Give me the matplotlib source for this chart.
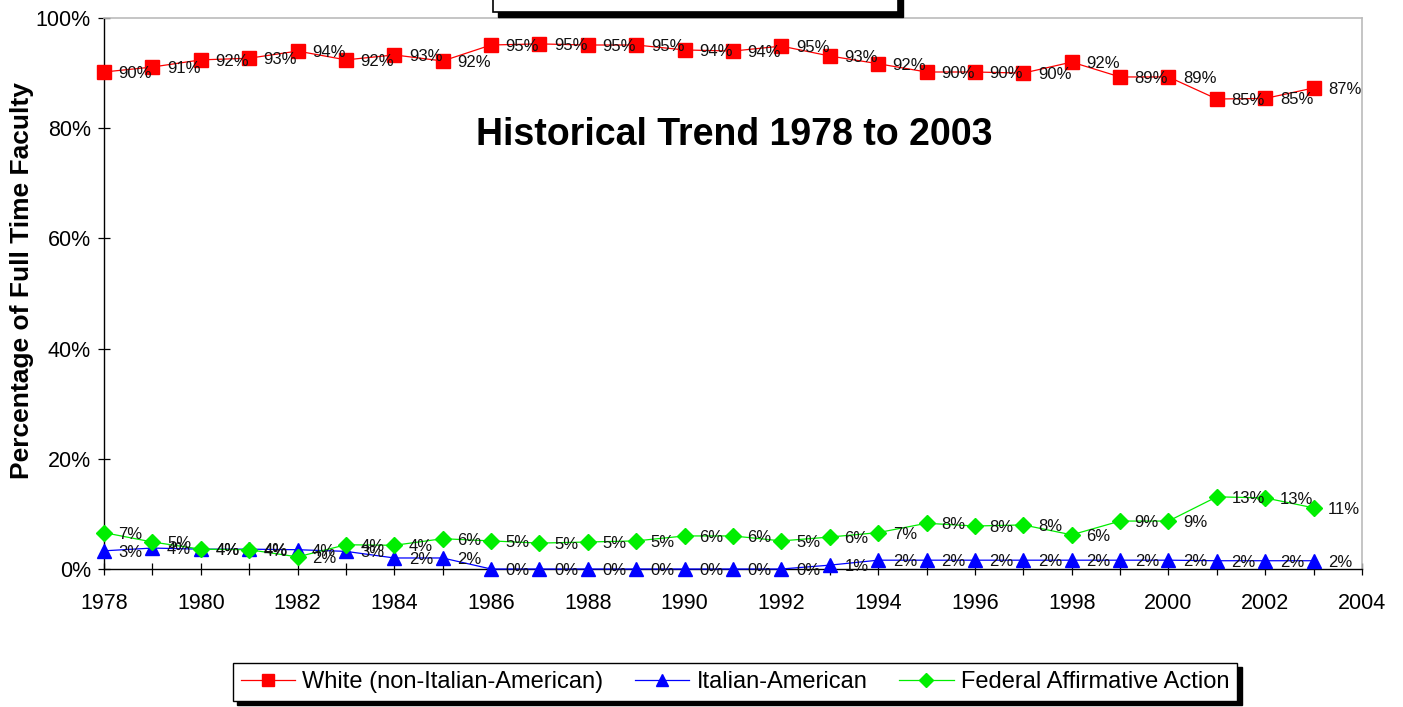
import matplotlib
matplotlib.use("Agg")
import matplotlib.pyplot as plt
from matplotlib.patches import Rectangle
from matplotlib.ticker import MultipleLocator, FuncFormatter
import math

years = list(range(1978, 2004))
white = [90.2, 91.1, 92.4, 92.7, 94.0, 92.4, 93.3, 92.2, 95.1, 95.3, 95.1, 95.1, 94.2,
         94.0, 94.9, 93.1, 91.7, 90.2, 90.2, 90.0, 92.0, 89.3, 89.3, 85.3, 85.4, 87.3]
italian = [3.3, 3.8, 3.6, 3.6, 3.5, 3.2, 2.0, 2.0, 0.0, 0.0, 0.0, 0.0, 0.0,
           0.0, 0.0, 0.7, 1.6, 1.6, 1.6, 1.6, 1.6, 1.6, 1.6, 1.5, 1.5, 1.5]
federal = [6.6, 4.9, 3.6, 3.5, 2.2, 4.4, 4.3, 5.5, 5.1, 4.7, 4.9, 5.1, 6.0,
           6.0, 5.1, 5.8, 6.6, 8.3, 7.8, 8.0, 6.2, 8.7, 8.7, 13.1, 12.9, 11.1]
series_names = ["White (non-Italian-American)", "Italian-American", "Federal Affirmative Action"]
title_text = "Historical Trend 1978 to 2003"
ylabel_text = "Percentage of Full Time Faculty"

plt.rcParams['font.family'] = ['Liberation Sans', 'DejaVu Sans']

W, H = 1403, 707
fig = plt.figure(figsize=(W / 100, H / 100), dpi=100)
ax = fig.add_axes([104 / W, 1 - 569 / H, (1362 - 104) / W, (569 - 18) / H])

styles = [
    dict(color='#FF0000', marker='s', markersize=10),
    dict(color='#0000FF', marker='^', markersize=10),
    dict(color='#00EE00', marker='D', markersize=8),
]
lines = []
for vals, name, st in zip([white, italian, federal], series_names, styles):
    ln, = ax.plot(years, vals, linewidth=0.9, color=st['color'], marker=st['marker'],
                  markersize=st['markersize'], markerfacecolor=st['color'],
                  markeredgecolor=st['color'], label=name, clip_on=False, zorder=3)
    lines.append(ln)
    for x, v in zip(years, vals):
        ax.annotate(f"{int(math.floor(v + 0.5))}%", (x, v), xytext=(10.5, -1),
                    textcoords='offset points', ha='left', va='center',
                    fontsize=12, color='#111111', zorder=4)

ax.set_xlim(1978, 2004)
ax.set_ylim(0, 100)
ax.xaxis.set_major_locator(MultipleLocator(2))
ax.xaxis.set_minor_locator(MultipleLocator(1))
ax.yaxis.set_major_locator(MultipleLocator(20))
ax.yaxis.set_major_formatter(FuncFormatter(lambda v, p: f"{v:.0f}%"))
ax.tick_params(axis='both', which='both', direction='inout', length=9, width=0.9, color='black')
ax.tick_params(axis='x', which='major', labelsize=15.5, pad=13)
ax.tick_params(axis='y', which='major', labelsize=15.5, pad=5)

for s in ['top', 'right']:
    ax.spines[s].set_color('#BBBBBB')
    ax.spines[s].set_linewidth(1.2)
for s in ['left', 'bottom']:
    ax.spines[s].set_color('black')
    ax.spines[s].set_linewidth(1.0)

ax.text(0.5008, 0.788, title_text, transform=ax.transAxes, ha='center', va='center',
        fontsize=27, fontweight='bold')
fig.text(22 / W, 1 - 281 / H, ylabel_text, rotation=90, ha='center', va='center',
         fontsize=19, fontweight='bold')

# partial box at the top (cut-off element)
def px_rect(x0, y0, x1, y1, **kw):
    return Rectangle((x0 / W, 1 - y1 / H), (x1 - x0) / W, (y1 - y0) / H,
                     transform=fig.transFigure, **kw)

fig.patches.append(px_rect(498, -5, 903, 17, facecolor='black', edgecolor='black', zorder=5))
fig.patches.append(px_rect(493, -10, 898, 12, facecolor='white', edgecolor='black',
                           linewidth=1.2, zorder=6))

leg = fig.legend(handles=lines, labels=series_names, loc='center',
                 bbox_to_anchor=(735 / W, 1 - 682 / H), ncol=3, fontsize=17,
                 frameon=True, fancybox=False, edgecolor='black', handlelength=2.3,
                 columnspacing=1.35, handletextpad=0.3, borderpad=0.35, markerscale=0.85,
                 shadow={'ox': 3, 'oy': -3, 'color': 'black', 'alpha': 1})
leg.get_frame().set_linewidth(1.0)

fig.savefig("out.png", dpi=100, facecolor='white')
